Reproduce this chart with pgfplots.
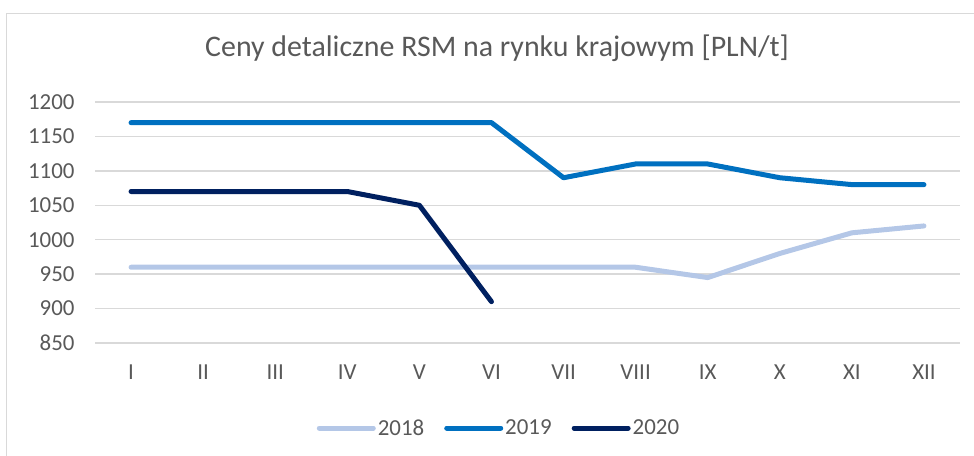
\documentclass[border=0pt]{standalone}
\usepackage{pgfplots}
\pgfplotsset{compat=1.18}
\usepackage{fontspec}
\setmainfont{Carlito}
\definecolor{txt}{HTML}{595959}
\definecolor{gridc}{HTML}{D9D9D9}
\definecolor{c18}{HTML}{B4C7E7}
\definecolor{c19}{HTML}{0070C0}
\definecolor{c20}{HTML}{002060}
\begin{document}
\begin{tikzpicture}[x=1bp,y=1bp]
\path[use as bounding box] (0,0) rectangle (974,456);
\draw[gridc, line width=1.5bp] (6.5,0) -- (6.5,442.5) -- (974,442.5);
\node[txt, font=\fontsize{30}{34}\selectfont] at (497,408) {Ceny detaliczne RSM na rynku krajowym [PLN/t]};
\begin{axis}[
  at={(95bp,113bp)}, anchor=south west,
  scale only axis, width=865bp, height=241bp,
  xmin=-0.5, xmax=11.5, ymin=850, ymax=1200,
  xtick={0,...,11},
  xticklabels={I,II,III,IV,V,VI,VII,VIII,IX,X,XI,XII},
  ytick={850,900,...,1200},
  axis line style={draw=none},
  tick style={draw=none},
  xmajorgrids=false, ymajorgrids=true,
  major grid style={gridc, line width=1.5bp},
  ticklabel style={txt, font=\fontsize{23}{26}\selectfont},
  /pgf/number format/assume math mode=true,
  /pgf/number format/1000 sep={},
  yticklabel style={xshift=-17bp},
  xticklabel style={yshift=-18bp},
  legend style={at={(0.467,-0.353)}, anchor=center, draw=none, fill=none,
    legend columns=3, font=\fontsize{23}{26}\selectfont, text=txt,
    /tikz/every even column/.append style={column sep=18bp}},
  legend image code/.code={\draw[#1, line cap=round] (0bp,0bp) -- (54bp,0bp);},
  every axis plot/.append style={line width=5bp, line cap=round, line join=round},
]
\addplot[c18] coordinates {(0,960)(1,960)(2,960)(3,960)(4,960)(5,960)(6,960)(7,960)(8,945)(9,980)(10,1010)(11,1020)};
\addlegendentry{2018}
\addplot[c19] coordinates {(0,1170)(1,1170)(2,1170)(3,1170)(4,1170)(5,1170)(6,1090)(7,1110)(8,1110)(9,1090)(10,1080)(11,1080)};
\addlegendentry{2019}
\addplot[c20] coordinates {(0,1070)(1,1070)(2,1070)(3,1070)(4,1050)(5,910)};
\addlegendentry{2020}
\end{axis}
\end{tikzpicture}
\end{document}
